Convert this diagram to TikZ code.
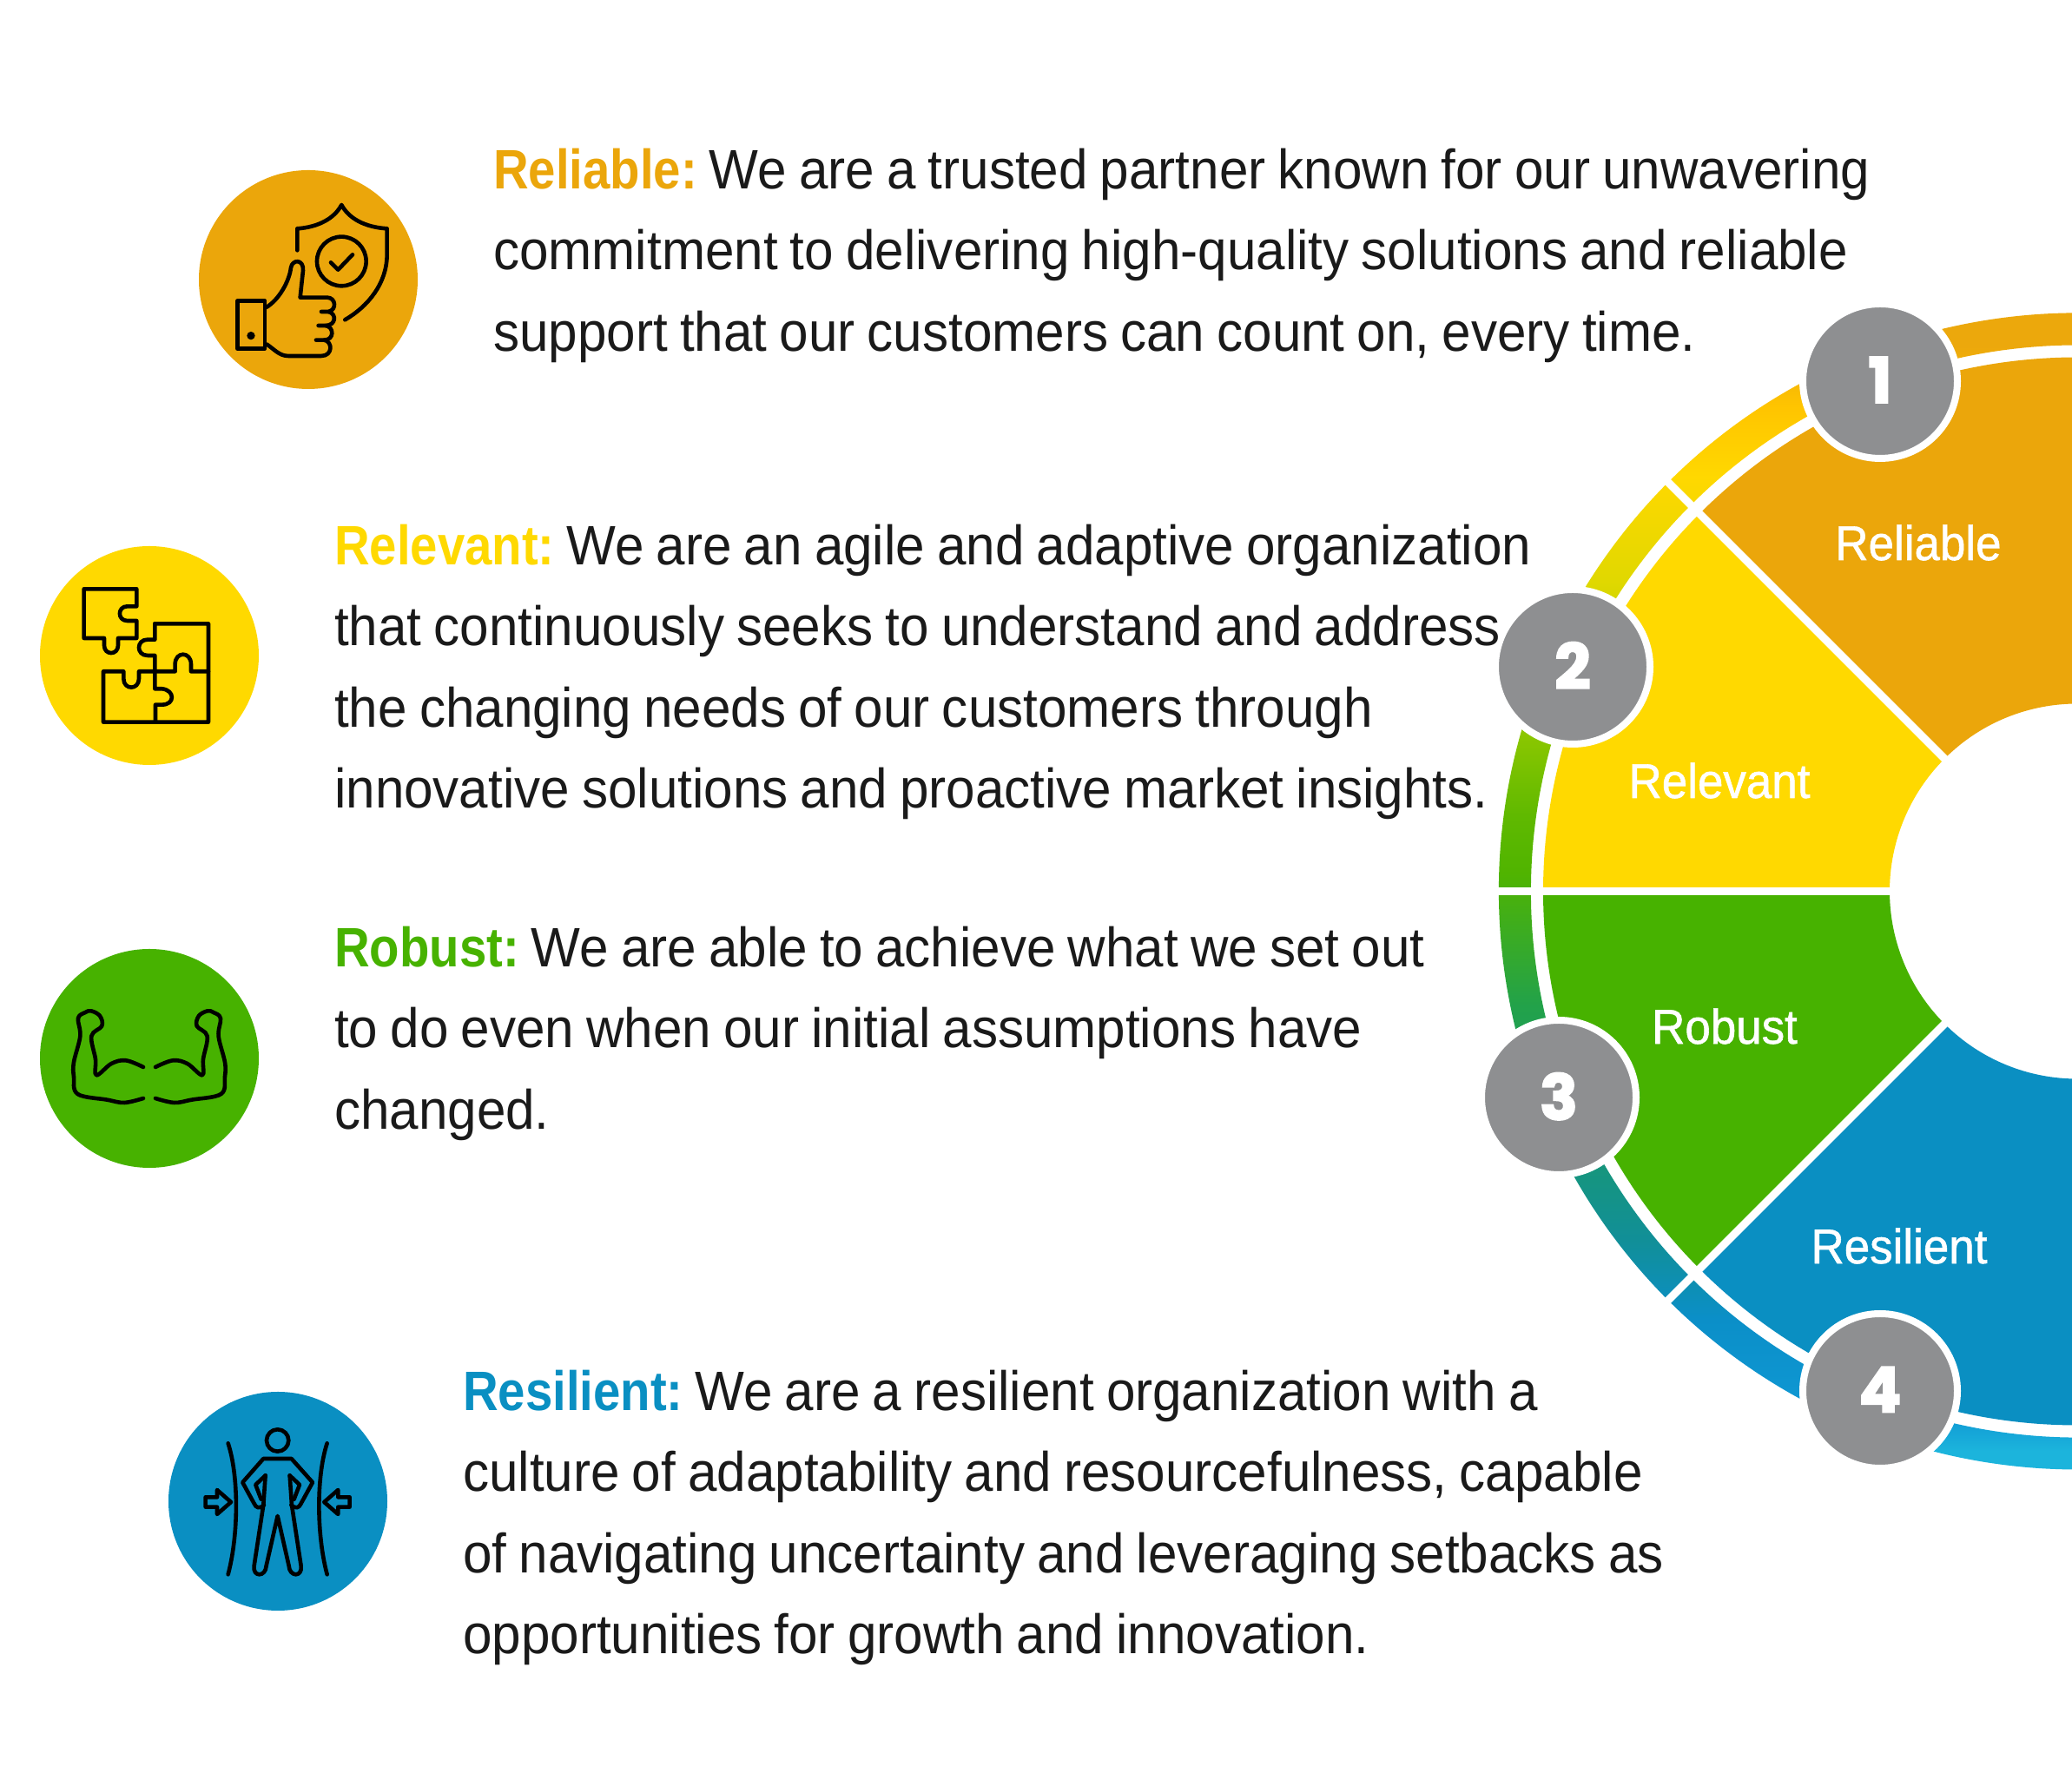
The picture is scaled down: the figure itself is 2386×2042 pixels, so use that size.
\documentclass[tikz,border=0pt]{standalone}
\usepackage{fontspec}
\setmainfont[FakeStretch=0.94,WordSpace=0.85,BoldFeatures={FakeStretch=0.88}]{Liberation Sans}
\newfontfamily\labfont[FakeStretch=0.945,FakeBold=1]{Liberation Sans}
\newfontfamily\numfont[FakeBold=3]{Poppins}
\usetikzlibrary{positioning}

\definecolor{relblecol}{HTML}{EBA60B}
\definecolor{relvcol}{HTML}{FFD900}
\definecolor{robcol}{HTML}{47B200}
\definecolor{rescol}{HTML}{0A8FC2}
\definecolor{numgray}{HTML}{8E8F91}
\definecolor{bodycol}{HTML}{1A1A1A}

\definecolor{ra}{HTML}{1CB4DC}
\definecolor{rb}{HTML}{0F98D4}
\definecolor{rc}{HTML}{0B8FC8}
\definecolor{rd}{HTML}{118F98}
\definecolor{re}{HTML}{1A9A68}
\definecolor{rf}{HTML}{22A24A}
\definecolor{rg}{HTML}{50B400}
\definecolor{rh}{HTML}{60B900}
\definecolor{ri}{HTML}{9CCC00}
\definecolor{rj}{HTML}{E0D800}
\definecolor{rk}{HTML}{FFD800}
\definecolor{rl}{HTML}{FFC400}
\definecolor{rm}{HTML}{ECA80C}
\pgfdeclareverticalshading{ringshade}{100bp}{color(0bp)=(ra); color(27.5bp)=(ra); color(28.94bp)=(rb); color(32.65bp)=(rc);
  color(35.69bp)=(rd); color(40.78bp)=(re); color(44.83bp)=(rf); color(50bp)=(rg); color(52.25bp)=(rh);
  color(56.62bp)=(ri); color(61.34bp)=(rj); color(65.39bp)=(rk); color(68.2bp)=(rl); color(70.5bp)=(rm); color(100bp)=(rm)}

\tikzset{
  bodytext/.style={align=left, anchor=north west, inner sep=0pt, text=bodycol,
    font=\fontsize{64}{93.3}\selectfont},
  iconcirc/.style={circle, minimum size=252pt, inner sep=0pt},
  numcirc/.style={circle, draw=white, line width=8pt, fill=numgray, minimum size=178pt, inner sep=0pt,
    text=white, font=\numfont\bfseries\fontsize{72}{72}\selectfont},
  seclabel/.style={text=white, inner sep=0pt, font=\labfont\fontsize{56}{56}\selectfont},
  iconline/.style={x=.3333pt, y=-.3333pt, line width=4.6pt, line cap=round, line join=round}
}
\newcommand{\numtxt}[1]{\raisebox{3pt}{#1}}
\newcommand{\lead}[2]{\textcolor{#1}{\textbf{#2}}\hspace{-6pt}}

\begin{document}
\begin{tikzpicture}[x=1pt, y=1pt]

    \clip (0,0) rectangle (2386,2042);

    % wheel
    \begin{scope}[shift={(2392,1015.5)}]
    \path[shading=ringshade] (60:666) arc (60:300:666) -- (300:629) arc (300:60:629) -- cycle;
    \fill[relblecol] (135:216) arc (135:45:216) -- (45:615) arc (45:135:615) -- cycle;
    \fill[relvcol] (135:216) arc (135:180:216) -- (180:615) arc (180:135:615) -- cycle;
    \fill[robcol] (180:216) arc (180:225:216) -- (225:615) arc (225:180:615) -- cycle;
    \fill[rescol] (225:216) arc (225:315:216) -- (315:615) arc (315:225:615) -- cycle;
    \draw[white, line width=9pt] (135:205) -- (135:680);
    \draw[white, line width=9pt] (180:205) -- (180:680);
    \draw[white, line width=9pt] (225:205) -- (225:680);
    \end{scope}

    \node[seclabel] (lab1) at (2209,1417) {Reliable};
    \node[seclabel] (lab2) at (1980,1143) {Relevant};
    \node[seclabel] (lab3) at (1986,860) {Robust};
    \node[seclabel] (lab4) at (2187,607) {Resilient};

    \node[numcirc] (num1) at (2165,1603) {\numtxt{1}};
    \node[numcirc] (num2) at (1811,1274) {\numtxt{2}};
    \node[numcirc] (num3) at (1795,778) {\numtxt{3}};
    \node[numcirc] (num4) at (2165,440) {\numtxt{4}};

    % text
    \node[bodytext] (txt1) at (568,1871) {\lead{relblecol}{Reliable:} We are a trusted partner known for our unwavering\\
      commitment to delivering high-quality solutions and reliable\\
      support that our customers can count on, every time.};
    \node[bodytext] (txt2) at (385,1438) {\lead{relvcol}{Relevant:} We are an agile and adaptive organization\\
      that continuously seeks to understand and address\\
      the changing needs of our customers through\\
      innovative solutions and proactive market insights.};
    \node[bodytext] (txt3) at (385,975) {\lead{robcol}{Robust:} We are able to achieve what we set out\\
      to do even when our initial assumptions have\\
      changed.};
    \node[bodytext] (txt4) at (533,464) {\lead{rescol}{Resilient:} We are a resilient organization with a\\
      culture of adaptability and resourcefulness, capable\\
      of navigating uncertainty and leveraging setbacks as\\
      opportunities for growth and innovation.};

    % icons
    \node[iconcirc, fill=relblecol] (ico1) at (355,1720) {};
    \node[iconcirc, fill=relvcol] (ico2) at (172,1287) {};
    \node[iconcirc, fill=robcol] (ico3) at (172,823) {};
    \node[iconcirc, fill=rescol] (ico4) at (320,313) {};

    \begin{scope}[shift={(200,1862)}, iconline]
    \draw (427,325) -- (427,250) .. controls (500,245) and (555,215) .. (580,168) .. controls (605,215) and (660,245) .. (737,250) -- (737,340) .. controls (737,440) and (670,520) .. (592,565);
    \draw (580,363) circle (85);
    \draw (543,367) -- (568,392) -- (618,340);
    \draw (220,500) rectangle (315,665);
    \fill (267,620) circle (14);
    \draw (320,522) .. controls (365,495) and (400,430) .. (405,385) .. controls (410,355) and (450,355) .. (447,395) -- (437,488) -- (530,488) .. controls (560,488) and (565,530) .. (535,537) -- (510,537);
    \draw (535,537) .. controls (565,545) and (560,585) .. (525,585) -- (500,585);
    \draw (525,585) .. controls (555,590) and (555,635) .. (520,635) -- (492,635);
    \draw (520,635) .. controls (550,640) and (550,690) .. (510,690) -- (395,690) .. controls (365,690) and (345,665) .. (322,650);
    \end{scope}

    \begin{scope}[shift={(30,1432)}, iconline]
    \draw (200,205) -- (382,205) -- (382,265) -- (350,265) .. controls (315,265) and (315,315) .. (350,315) -- (382,315) -- (382,375) -- (318,375) -- (318,400) .. controls (318,435) and (270,435) .. (270,400) -- (270,375) -- (200,375) -- cycle;
    \draw (445,325) -- (630,325) -- (630,665) -- (267,665) -- (267,490) -- (337,490) -- (337,515) .. controls (337,555) and (390,555) .. (390,515) -- (390,490) -- (445,490);
    \draw (445,325) -- (445,380) -- (420,380) .. controls (380,380) and (380,435) .. (420,435) -- (445,435) -- (445,550) -- (470,550) .. controls (515,555) and (515,605) .. (470,605) -- (447,605) -- (447,665);
    \draw (445,490) -- (515,490) -- (515,465) .. controls (515,420) and (570,420) .. (570,465) -- (570,490) -- (630,490);
    \end{scope}

    \begin{scope}[shift={(30,962)}, iconline]
    \draw plot[smooth, tension=.6] coordinates {(405,447) (345,424) (295,435) (243,475) (240,420) (226,340) (262,305) (255,270) (225,253) (205,258) (180,278) (187,340) (165,430) (165,480) (178,540) (280,560) (340,570) (405,555)};
    \draw plot[smooth, tension=.6] coordinates {(447,447) (507,424) (557,435) (609,475) (612,420) (626,340) (590,305) (597,270) (627,253) (647,258) (672,278) (665,340) (687,430) (687,480) (674,540) (572,560) (512,570) (447,555)};
    \end{scope}

    \begin{scope}[shift={(180,452)}, iconline]
    \draw (419,207) circle (38);
    \draw (372,430) .. controls (355,445) and (345,440) .. (338,425) -- (298,352) -- (370,270) -- (467,270) -- (540,352) -- (500,425) .. controls (493,440) and (483,445) .. (466,430);
    \draw (377,328) -- (343,360) -- (362,410);
    \draw (461,328) -- (495,360) -- (476,410);
    \draw (377,328) -- (370,430) -- (338,640) .. controls (332,680) and (378,680) .. (380,640) -- (419,468) -- (458,640) .. controls (460,680) and (506,680) .. (500,640) -- (468,430) -- (461,328);
    \draw (248,217) .. controls (285,330) and (285,530) .. (248,670);
    \draw (590,217) .. controls (553,330) and (553,530) .. (590,670);
    \draw (170,403) -- (210,403) -- (210,378) -- (258,420) -- (210,462) -- (210,437) -- (170,437) -- cycle;
    \draw (668,403) -- (628,403) -- (628,378) -- (580,420) -- (628,462) -- (628,437) -- (668,437) -- cycle;
    \end{scope}

\end{tikzpicture}
\end{document}
